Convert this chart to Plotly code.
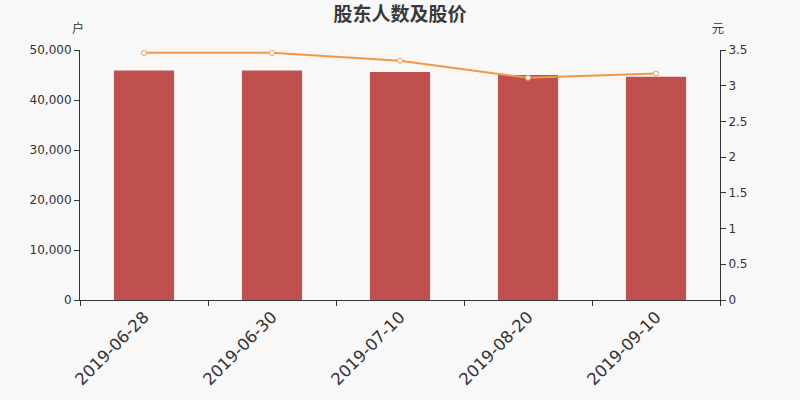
import plotly.graph_objects as go

dates = ["2019-06-28", "2019-06-30", "2019-07-10", "2019-08-20", "2019-09-10"]
holders = [45900, 45900, 45600, 45000, 44650]
price = [3.46, 3.46, 3.35, 3.11, 3.17]

FONT = "DejaVu Sans, Noto Sans CJK SC, sans-serif"
CJK = "Noto Sans CJK SC, sans-serif"

fig = go.Figure()
fig.add_trace(go.Bar(x=dates, y=holders, marker=dict(color="#c0504d", line=dict(width=0)),
                     width=0.47, name="股东人数"))
fig.add_trace(go.Scatter(x=dates, y=price, yaxis="y2", mode="lines+markers",
                         line=dict(color="#f79646", width=2),
                         marker=dict(size=5, color="#ffffff", line=dict(color="#f79646", width=1)),
                         name="股价"))

axis_common = dict(showline=True, linecolor="#333", linewidth=1, ticks="outside",
                   ticklen=5, tickcolor="#333", showgrid=False, zeroline=False,
                   automargin=False)

fig.update_layout(
    width=800, height=400,
    margin=dict(l=80, r=80, t=50, b=100),
    paper_bgcolor="#f8f8f8", plot_bgcolor="#f8f8f8",
    font=dict(family=FONT, color="#333"),
    showlegend=False,
    title=dict(text="<b>股东人数及股价</b>", x=0.5, xanchor="center", y=0.965, yanchor="middle",
               font=dict(size=19, color="#3a3a3a", family=CJK)),
    xaxis=dict(type="category", tickangle=-45, tickson="boundaries",
               tickfont=dict(size=16.5, color="#333"), **axis_common),
    yaxis=dict(range=[0, 50000], tickvals=[0, 10000, 20000, 30000, 40000, 50000],
               tickformat=",", tickfont=dict(size=12, color="#333"), **axis_common),
    yaxis2=dict(range=[0, 3.5], tickvals=[0, 0.5, 1, 1.5, 2, 2.5, 3, 3.5],
                overlaying="y", side="right", tickfont=dict(size=12, color="#333"),
                **axis_common),
    annotations=[
        dict(text="户", xref="paper", yref="paper", x=-0.003, y=1.088, xanchor="center",
             yanchor="middle", showarrow=False,
             font=dict(size=12, color="#333", family=CJK)),
        dict(text="元", xref="paper", yref="paper", x=0.997, y=1.088, xanchor="center",
             yanchor="middle", showarrow=False,
             font=dict(size=12, color="#333", family=CJK)),
    ],
)

fig.write_html("out.html", config={"displayModeBar": False},
               post_script="document.body.style.margin='0';document.body.style.background='#f8f8f8';")
